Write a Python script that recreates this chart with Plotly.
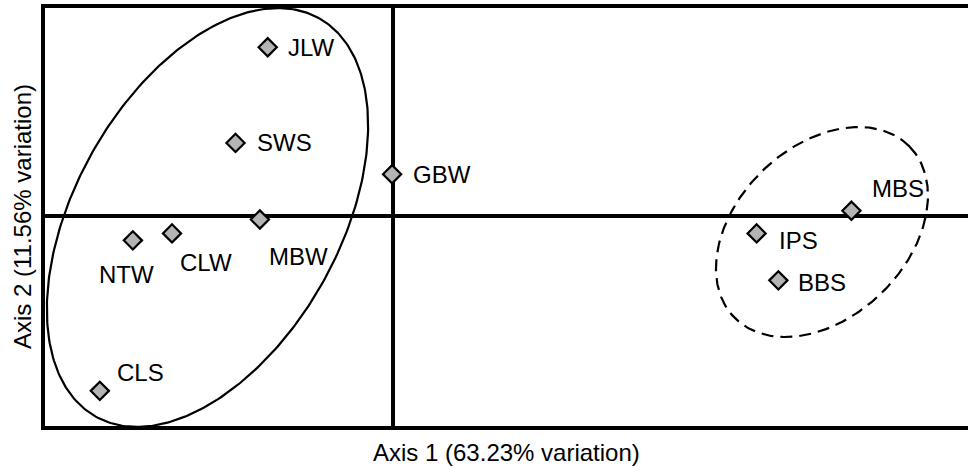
import numpy as np
import plotly.graph_objects as go

# PCoA site scores
sites = ["JLW", "SWS", "GBW", "MBW", "CLW", "NTW", "CLS", "MBS", "IPS", "BBS"]
axis1 = [-0.144, -0.181, -0.001, -0.153, -0.254, -0.299, -0.337, 0.527, 0.418, 0.443]
axis2 = [0.194, 0.084, 0.048, -0.004, -0.020, -0.028, -0.201, 0.006, -0.020, -0.074]

x_title = "Axis 1 (63.23% variation)"
y_title = "Axis 2 (11.56% variation)"

# label placement: (xanchor, xshift px, yshift px)
label_pos = {
    "JLW": ("left", 18, 0),
    "SWS": ("left", 19, 0),
    "GBW": ("left", 19, 0),
    "IPS": ("left", 20, -7),
    "BBS": ("left", 18, -2),
    "MBS": ("center", 47, 22),
    "MBW": ("center", 39, -37),
    "CLW": ("center", 34, -29),
    "NTW": ("center", -6, -34),
    "CLS": ("center", 41, 18),
}

# group ellipses: centre x, centre y, semi-major, semi-minor, angle (deg)
ellipses = [
    dict(cx=-0.2132, cy=-0.0017, a=0.2625, b=0.1521, ang=60.7, dash="solid"),
    dict(cx=0.4931, cy=-0.0184, a=0.1407, b=0.0981, ang=44.2, dash="12px,7px"),
]

FONT = "Liberation Sans, Arial, sans-serif"

fig = go.Figure()

t = np.linspace(0, 2 * np.pi, 361)
for e in ellipses:
    th = np.radians(e["ang"])
    ex = e["cx"] + e["a"] * np.cos(t) * np.cos(th) - e["b"] * np.sin(t) * np.sin(th)
    ey = e["cy"] + e["a"] * np.cos(t) * np.sin(th) + e["b"] * np.sin(t) * np.cos(th)
    fig.add_trace(go.Scatter(x=ex, y=ey, mode="lines",
                             line=dict(color="black", width=2.2, dash=e["dash"]),
                             hoverinfo="skip", showlegend=False))

fig.add_trace(go.Scatter(
    x=axis1, y=axis2, mode="markers", text=sites, showlegend=False,
    marker=dict(symbol="diamond", size=14, color="#b4b4b4",
                line=dict(color="black", width=2.2)),
))

for name, xv, yv in zip(sites, axis1, axis2):
    anchor, dx, dy = label_pos[name]
    fig.add_annotation(x=xv, y=yv, text=name, showarrow=False,
                       xanchor=anchor, yanchor="middle", xshift=dx, yshift=dy,
                       font=dict(family=FONT, size=24, color="black"))

fig.add_annotation(xref="paper", yref="paper", x=0.5, y=0, yshift=-26,
                   xanchor="center", yanchor="middle", text=x_title, showarrow=False,
                   font=dict(family=FONT, size=24, color="black"))
fig.add_annotation(xref="paper", yref="paper", x=0, y=0.5, xshift=-23,
                   xanchor="center", yanchor="middle", text=y_title, textangle=-90,
                   showarrow=False, font=dict(family=FONT, size=24, color="black"))

fig.update_xaxes(range=[-0.4, 0.661], showgrid=False, showticklabels=False, ticks="",
                 zeroline=True, zerolinecolor="black", zerolinewidth=4,
                 showline=True, linecolor="black", linewidth=4, mirror=True)
fig.update_yaxes(range=[-0.2414, 0.2391], showgrid=False, showticklabels=False, ticks="",
                 zeroline=True, zerolinecolor="black", zerolinewidth=4,
                 showline=True, linecolor="black", linewidth=4, mirror=False)

fig.update_layout(width=968, height=470, margin=dict(l=45, r=0, t=8, b=44),
                  plot_bgcolor="white", paper_bgcolor="white")

fig.write_html("out.html")
